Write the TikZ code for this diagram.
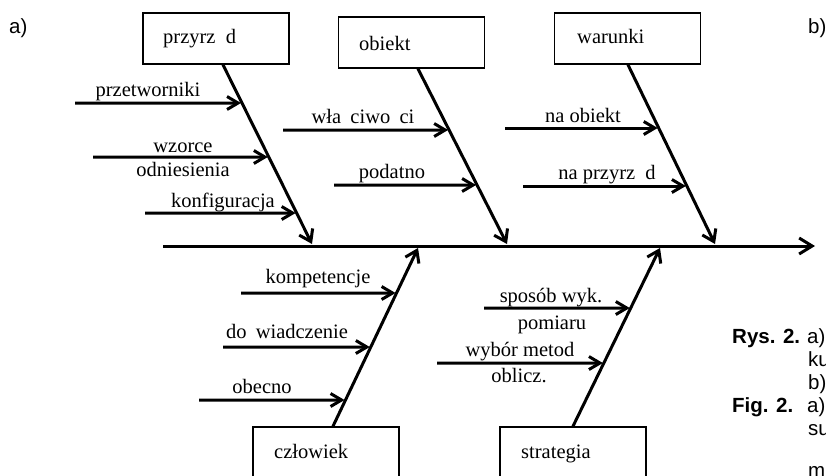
\documentclass[tikz,border=0pt]{standalone}
\usepackage{fontspec}
\setmainfont{Liberation Serif}
\newfontfamily\capfont{Liberation Sans}
\usetikzlibrary{arrows.meta}
\newcommand{\subarrow}[5]{%
  \coordinate (#1) at (#2,#3);
  \coordinate (#1h) at (900,#3);
  \draw[subarr] (#1) -- (intersection of #4--#5 and #1--#1h);
}
\tikzset{
  box/.style={draw, line width=1.6pt, minimum width=146pt, minimum height=51pt, inner sep=0pt},
  lbl/.style={font=\fontsize{20.5}{24}\selectfont, inner sep=0pt, anchor=base},
  boxlbl/.style={font=\fontsize{20.5}{24}\selectfont, inner sep=0pt, anchor=base west},
  captxt/.style={font=\capfont\fontsize{20.5}{24}\selectfont, inner sep=0pt, anchor=base west},
  bone/.style={line width=3pt, line cap=round, -{Straight Barb[length=11pt,width=15pt]}},
  spine/.style={line width=3pt, -{Straight Barb[length=13pt,width=16pt]}},
  subarr/.style={line width=3pt, shorten >=1pt, -{Straight Barb[length=11pt,width=13pt]}},
}
\begin{document}
\begin{tikzpicture}[x=1pt,y=-1pt]
\useasboundingbox (0,0) rectangle (826,475);
\clip (0,0) rectangle (826,475);
% boxes
\node[box] (pz) at (216,38.5) {};
\node[box] (ob) at (411.5,42.5) {};
\node[box] (wa) at (627.5,38.5) {};
\node[box] (cz) at (326,452.5) {};
\node[box] (st) at (573,452.5) {};
\node[boxlbl] (pzt) at (163,43) {przyrz \kern0.25em d};
\node[boxlbl] (obt) at (359,50) {obiekt};
\node[boxlbl] (wat) at (577,43) {warunki};
\node[boxlbl] (czt) at (274,458) {człowiek};
\node[boxlbl] (stt) at (521,458) {strategia};
% spine
\coordinate (sp0) at (163,246);
\coordinate (sp1) at (815,246);
\draw[spine] (sp0) -- (sp1);
% bones
\coordinate (b1s) at ([xshift=7pt]pz.south);
\coordinate (b1e) at (312,244);
\coordinate (b2s) at ([xshift=6.5pt]ob.south);
\coordinate (b2e) at (507,244);
\coordinate (b3s) at ([xshift=0.5pt]wa.south);
\coordinate (b3e) at (715,244);
\coordinate (b4s) at ([xshift=7pt]cz.north);
\coordinate (b4e) at (418,248);
\coordinate (b5s) at (st.north);
\coordinate (b5e) at (660,248);
\draw[bone] (b1s) -- (b1e);
\draw[bone] (b2s) -- (b2e);
\draw[bone] (b3s) -- (b3e);
\draw[bone] (b4s) -- (b4e);
\draw[bone] (b5s) -- (b5e);
% sub-cause arrows
\subarrow{a1}{75}{103}{b1s}{b1e}
\subarrow{a2}{93}{157}{b1s}{b1e}
\subarrow{a3}{145}{213}{b1s}{b1e}
\subarrow{a4}{283}{130}{b2s}{b2e}
\subarrow{a5}{334}{185}{b2s}{b2e}
\subarrow{a6}{505}{128}{b3s}{b3e}
\subarrow{a7}{523}{186}{b3s}{b3e}
\subarrow{a8}{241}{293}{b4s}{b4e}
\subarrow{a9}{223}{347}{b4s}{b4e}
\subarrow{a10}{199}{400}{b4s}{b4e}
\subarrow{a11}{484}{308}{b5s}{b5e}
\subarrow{a12}{437}{363}{b5s}{b5e}
% labels
\node[lbl] (l1) at (148,96) {przetworniki};
\node[lbl] (l2a) at (183,152) {wzorce};
\node[lbl] (l2b) at (183,176) {odniesienia};
\node[lbl] (l3) at (223,207) {konfiguracja};
\node[lbl] (l4) at (363,123) {wła \kern0.2em ciwo \kern0.2em ci};
\node[lbl] (l5) at (392,178) {podatno};
\node[lbl] (l6) at (583,122) {na obiekt};
\node[lbl] (l7) at (607,179) {na przyrz \kern0.25em d};
\node[lbl] (l8) at (318,283) {kompetencje};
\node[lbl] (l9) at (287,338) {do \kern0.2em wiadczenie};
\node[lbl] (l10) at (262,393) {obecno};
\node[lbl] (l11a) at (551,302) {sposób wyk.};
\node[lbl] (l11b) at (552,329) {pomiaru};
\node[lbl] (l12a) at (520,356) {wybór metod};
\node[lbl] (l12b) at (519,382) {oblicz.};
% caption fragments
\node[captxt] (pa) at (9,33) {a)};
\node[captxt] (pb) at (808,33) {b)};
\node[captxt] (c1) at (732,343) {\textbf{Rys. 2.}};
\node[captxt] (c1a) at (807,343) {a)};
\node[captxt] (c2) at (808,366) {ku};
\node[captxt] (c3) at (808,389) {b)};
\node[captxt] (c4) at (732,412) {\textbf{Fig. 2.}};
\node[captxt] (c4a) at (807,412) {a)};
\node[captxt] (c5) at (808,435) {su};
\node[captxt] (c6) at (808,477) {ma};
\end{tikzpicture}
\end{document}
